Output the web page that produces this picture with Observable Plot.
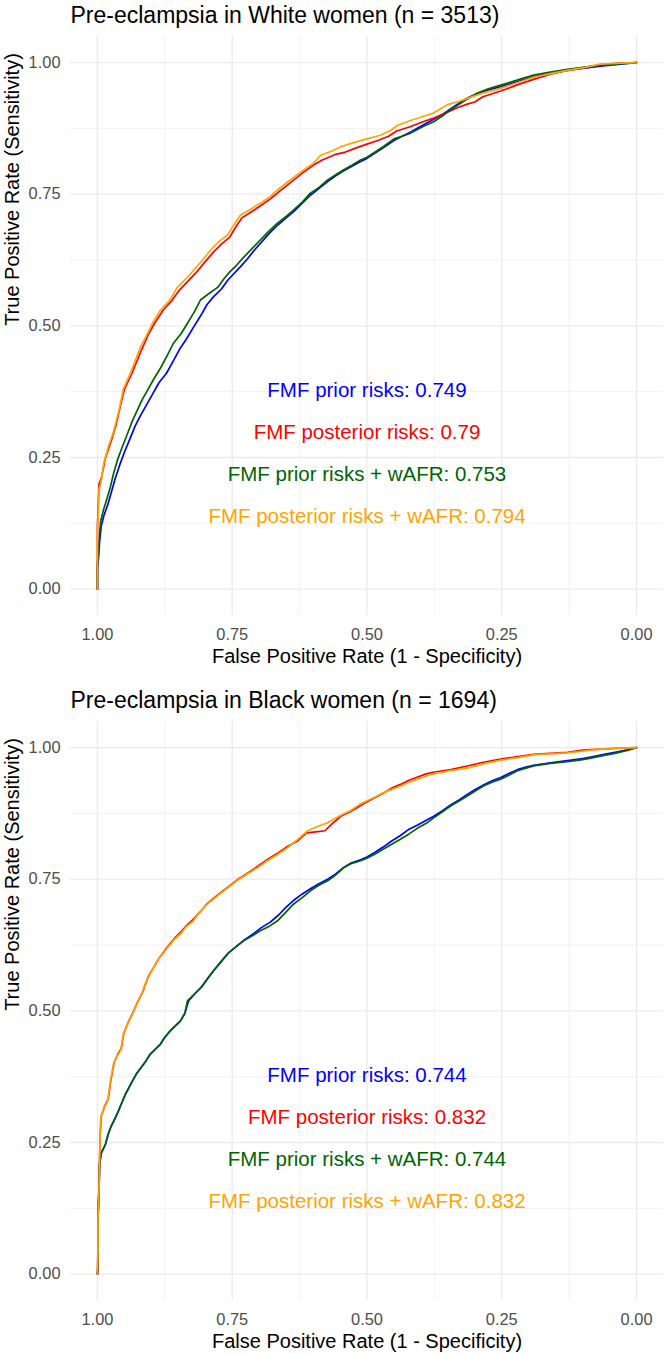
<!DOCTYPE html>
<html><head><meta charset="utf-8">
<script src="https://cdn.jsdelivr.net/npm/d3@7"></script>
<script src="https://cdn.jsdelivr.net/npm/@observablehq/plot@0.6"></script>
<style>html,body{margin:0;padding:0;background:#fff;overflow:hidden} svg{display:block}</style>
</head><body><div id="chart"></div>
<script>
// ---- data ----
const xTicks = [1, 0.75, 0.5, 0.25, 0];
const yTicks = [0, 0.25, 0.5, 0.75, 1];
const minorTicks = [0.125, 0.375, 0.625, 0.875];
const seriesNames = ["FMF prior risks", "FMF posterior risks", "FMF prior risks + wAFR", "FMF posterior risks + wAFR"];
const seriesColors = ["#0000ff", "#ff0000", "#006400", "#ffa500"];
const panelTitles = ["Pre-eclampsia in White women (n = 3513)", "Pre-eclampsia in Black women (n = 1694)"];
const xTitle = "False Positive Rate (1 - Specificity)";
const yTitle = "True Positive Rate (Sensitivity)";
const whiteAuc = ["0.749", "0.79", "0.753", "0.794"];
const blackAuc = ["0.744", "0.832", "0.744", "0.832"];

// [specificity, sensitivity]
const whitePrior = [[1,0],[1,0.04],[0.998,0.06],[0.996,0.09],[0.993,0.12],[0.988,0.14],[0.981,0.16],[0.974,0.185],[0.967,0.21],[0.959,0.235],[0.950,0.26],[0.940,0.285],[0.930,0.31],[0.920,0.33],[0.909,0.35],[0.898,0.37],[0.886,0.392],[0.872,0.41],[0.860,0.432],[0.848,0.455],[0.835,0.475],[0.822,0.497],[0.808,0.52],[0.797,0.54],[0.785,0.555],[0.770,0.57],[0.758,0.587],[0.748,0.598],[0.735,0.612],[0.722,0.627],[0.708,0.645],[0.695,0.66],[0.680,0.677],[0.665,0.692],[0.650,0.705],[0.636,0.717],[0.620,0.733],[0.605,0.748],[0.590,0.76],[0.573,0.774],[0.558,0.785],[0.544,0.794],[0.528,0.803],[0.512,0.812],[0.500,0.818],[0.485,0.828],[0.470,0.838],[0.450,0.852],[0.435,0.86],[0.419,0.868],[0.395,0.882],[0.377,0.892],[0.358,0.903],[0.345,0.912],[0.332,0.921],[0.315,0.932],[0.295,0.941],[0.275,0.948],[0.252,0.954],[0.220,0.964],[0.191,0.973],[0.160,0.98],[0.128,0.985],[0.100,0.989],[0.067,0.993],[0.03,0.997],[0,1]];
const whitePost = [[1,0],[1,0.12],[0.997,0.2],[0.993,0.21],[0.985,0.25],[0.975,0.28],[0.966,0.31],[0.957,0.35],[0.950,0.38],[0.936,0.41],[0.918,0.455],[0.905,0.485],[0.894,0.505],[0.878,0.53],[0.862,0.548],[0.848,0.568],[0.832,0.585],[0.818,0.6],[0.800,0.622],[0.785,0.64],[0.770,0.655],[0.755,0.668],[0.742,0.69],[0.732,0.705],[0.712,0.718],[0.695,0.73],[0.678,0.742],[0.663,0.755],[0.642,0.772],[0.620,0.79],[0.600,0.805],[0.583,0.815],[0.560,0.825],[0.540,0.83],[0.520,0.838],[0.500,0.845],[0.480,0.852],[0.460,0.86],[0.445,0.87],[0.420,0.878],[0.395,0.888],[0.375,0.895],[0.352,0.905],[0.330,0.915],[0.314,0.921],[0.300,0.925],[0.285,0.935],[0.252,0.946],[0.220,0.958],[0.191,0.968],[0.160,0.978],[0.128,0.985],[0.100,0.99],[0.067,0.996],[0.03,0.999],[0,1]];
const whitePriorAfr = [[1,0],[1,0.05],[0.998,0.07],[0.996,0.106],[0.994,0.13],[0.989,0.15],[0.983,0.17],[0.976,0.194],[0.970,0.22],[0.963,0.245],[0.954,0.27],[0.944,0.296],[0.935,0.32],[0.926,0.34],[0.917,0.36],[0.907,0.378],[0.895,0.40],[0.883,0.42],[0.870,0.445],[0.859,0.467],[0.845,0.485],[0.833,0.505],[0.820,0.527],[0.809,0.549],[0.795,0.56],[0.777,0.573],[0.765,0.59],[0.755,0.602],[0.742,0.615],[0.729,0.63],[0.712,0.648],[0.698,0.663],[0.682,0.68],[0.666,0.695],[0.650,0.708],[0.636,0.72],[0.620,0.735],[0.605,0.752],[0.590,0.762],[0.573,0.777],[0.558,0.787],[0.544,0.796],[0.528,0.805],[0.512,0.815],[0.500,0.82],[0.485,0.83],[0.470,0.84],[0.450,0.855],[0.435,0.86],[0.419,0.866],[0.395,0.879],[0.377,0.887],[0.358,0.9],[0.345,0.91],[0.332,0.919],[0.315,0.93],[0.295,0.942],[0.275,0.95],[0.252,0.957],[0.220,0.967],[0.191,0.976],[0.160,0.982],[0.128,0.987],[0.100,0.991],[0.067,0.995],[0.03,0.998],[0,1]];
const whitePostAfr = [[1,0],[1,0.1],[0.997,0.19],[0.994,0.20],[0.988,0.24],[0.980,0.27],[0.970,0.30],[0.960,0.34],[0.952,0.38],[0.939,0.41],[0.920,0.46],[0.905,0.49],[0.898,0.505],[0.883,0.53],[0.865,0.55],[0.852,0.573],[0.835,0.59],[0.822,0.605],[0.805,0.625],[0.790,0.644],[0.775,0.66],[0.759,0.672],[0.745,0.695],[0.735,0.71],[0.715,0.722],[0.698,0.733],[0.680,0.745],[0.666,0.758],[0.645,0.775],[0.623,0.792],[0.600,0.808],[0.586,0.824],[0.565,0.832],[0.549,0.84],[0.525,0.848],[0.500,0.855],[0.475,0.862],[0.455,0.872],[0.443,0.881],[0.419,0.89],[0.395,0.898],[0.377,0.904],[0.351,0.92],[0.330,0.926],[0.314,0.932],[0.285,0.942],[0.252,0.951],[0.220,0.962],[0.191,0.972],[0.160,0.979],[0.128,0.985],[0.100,0.99],[0.067,0.997],[0.03,0.999],[0,1]];

const blackPrior = [[1,0],[0.999,0.011],[0.999,0.106],[0.997,0.163],[0.996,0.209],[0.993,0.23],[0.985,0.247],[0.980,0.266],[0.975,0.28],[0.970,0.29],[0.961,0.31],[0.955,0.325],[0.948,0.342],[0.935,0.367],[0.928,0.38],[0.920,0.391],[0.91,0.405],[0.902,0.418],[0.883,0.437],[0.875,0.45],[0.865,0.462],[0.846,0.481],[0.838,0.495],[0.831,0.519],[0.820,0.532],[0.807,0.545],[0.795,0.562],[0.783,0.578],[0.770,0.594],[0.757,0.61],[0.743,0.622],[0.727,0.635],[0.710,0.647],[0.696,0.658],[0.680,0.668],[0.664,0.682],[0.650,0.697],[0.636,0.71],[0.620,0.722],[0.605,0.732],[0.59,0.741],[0.573,0.75],[0.558,0.76],[0.544,0.772],[0.531,0.78],[0.512,0.787],[0.5,0.792],[0.485,0.801],[0.47,0.811],[0.455,0.822],[0.438,0.833],[0.422,0.845],[0.406,0.853],[0.390,0.862],[0.377,0.869],[0.36,0.88],[0.345,0.891],[0.330,0.9],[0.314,0.911],[0.3,0.92],[0.284,0.929],[0.268,0.937],[0.252,0.943],[0.236,0.951],[0.221,0.958],[0.205,0.963],[0.191,0.966],[0.160,0.971],[0.128,0.975],[0.100,0.979],[0.085,0.982],[0.06,0.987],[0.035,0.992],[0.015,0.996],[0,1]];
const blackPost = [[1,0],[0.999,0.06],[0.999,0.11],[0.997,0.17],[0.996,0.22],[0.995,0.265],[0.993,0.3],[0.987,0.318],[0.980,0.333],[0.975,0.37],[0.969,0.402],[0.962,0.418],[0.956,0.428],[0.951,0.458],[0.943,0.478],[0.934,0.497],[0.925,0.518],[0.916,0.536],[0.906,0.565],[0.896,0.582],[0.887,0.598],[0.869,0.623],[0.857,0.638],[0.845,0.65],[0.834,0.663],[0.821,0.675],[0.808,0.69],[0.795,0.705],[0.777,0.72],[0.758,0.735],[0.739,0.75],[0.721,0.762],[0.702,0.775],[0.684,0.788],[0.665,0.8],[0.646,0.813],[0.630,0.822],[0.612,0.838],[0.595,0.84],[0.578,0.842],[0.565,0.855],[0.548,0.87],[0.531,0.878],[0.512,0.89],[0.500,0.897],[0.485,0.905],[0.470,0.913],[0.452,0.924],[0.438,0.93],[0.422,0.938],[0.406,0.944],[0.390,0.95],[0.377,0.953],[0.345,0.958],[0.314,0.965],[0.284,0.972],[0.252,0.978],[0.220,0.983],[0.191,0.987],[0.160,0.989],[0.128,0.991],[0.100,0.995],[0.067,0.997],[0.03,0.999],[0,1]];
const blackPriorAfr = [[1,0],[0.999,0.011],[0.999,0.106],[0.997,0.163],[0.996,0.209],[0.993,0.23],[0.985,0.247],[0.980,0.266],[0.975,0.28],[0.970,0.29],[0.961,0.31],[0.955,0.325],[0.948,0.342],[0.935,0.367],[0.928,0.38],[0.920,0.391],[0.91,0.405],[0.902,0.418],[0.883,0.437],[0.875,0.45],[0.865,0.462],[0.846,0.481],[0.838,0.495],[0.833,0.519],[0.822,0.53],[0.809,0.543],[0.797,0.56],[0.785,0.576],[0.772,0.592],[0.759,0.608],[0.745,0.62],[0.729,0.633],[0.712,0.643],[0.698,0.652],[0.682,0.66],[0.666,0.671],[0.650,0.688],[0.636,0.703],[0.620,0.715],[0.605,0.728],[0.59,0.738],[0.573,0.747],[0.558,0.758],[0.544,0.771],[0.531,0.779],[0.512,0.785],[0.5,0.79],[0.485,0.798],[0.47,0.807],[0.455,0.816],[0.438,0.826],[0.422,0.836],[0.406,0.847],[0.390,0.856],[0.377,0.866],[0.36,0.878],[0.345,0.889],[0.330,0.898],[0.314,0.908],[0.3,0.917],[0.284,0.927],[0.268,0.934],[0.252,0.94],[0.236,0.948],[0.221,0.956],[0.205,0.961],[0.191,0.965],[0.160,0.97],[0.128,0.973],[0.100,0.977],[0.085,0.98],[0.06,0.985],[0.035,0.99],[0.015,0.995],[0,1]];
const blackPostAfr = [[1,0],[0.999,0.05],[0.999,0.106],[0.997,0.163],[0.996,0.215],[0.995,0.26],[0.994,0.296],[0.988,0.315],[0.981,0.329],[0.976,0.367],[0.970,0.4],[0.963,0.415],[0.957,0.424],[0.952,0.456],[0.944,0.475],[0.935,0.494],[0.926,0.515],[0.918,0.532],[0.907,0.562],[0.898,0.578],[0.889,0.595],[0.870,0.62],[0.858,0.635],[0.846,0.646],[0.835,0.66],[0.822,0.671],[0.810,0.688],[0.796,0.703],[0.778,0.718],[0.759,0.733],[0.740,0.748],[0.722,0.76],[0.703,0.772],[0.685,0.785],[0.666,0.797],[0.647,0.81],[0.628,0.826],[0.61,0.842],[0.592,0.85],[0.573,0.857],[0.562,0.864],[0.544,0.874],[0.531,0.88],[0.512,0.893],[0.500,0.899],[0.485,0.906],[0.470,0.914],[0.455,0.92],[0.438,0.927],[0.422,0.934],[0.406,0.94],[0.390,0.946],[0.377,0.95],[0.345,0.956],[0.314,0.961],[0.284,0.969],[0.252,0.976],[0.220,0.981],[0.191,0.986],[0.160,0.988],[0.128,0.99],[0.100,0.993],[0.067,0.997],[0.03,0.999],[0,1]];

// annotation placement (data coordinates)
const labelX = 0.5;
const labelY = [0.377, 0.297, 0.217, 0.139];

// ---- drawing ----
const FONT = "'Liberation Sans', Arial, Helvetica, sans-serif";
function panel(title, curves, aucs, height, marginBottom) {
  const rows = curves.flatMap((c, k) => c.map(([spec, sens]) => ({spec, sens, series: seriesNames[k]})));
  const labels = seriesNames.map((s, k) => ({series: s, text: `${s}: ${aucs[k]}`, x: labelX, y: labelY[k]}));
  return Plot.plot({
    width: 666, height, marginLeft: 70, marginRight: 3, marginTop: 35.7, marginBottom,
    style: {fontFamily: FONT, background: "#fff", overflow: "visible"},
    x: {domain: [1.05, -0.05]},
    y: {domain: [-0.05, 1.05]},
    color: {domain: seriesNames, range: seriesColors},
    marks: [
      Plot.ruleX(minorTicks, {stroke: "#ebebeb", strokeWidth: 0.7}),
      Plot.ruleY(minorTicks, {stroke: "#ebebeb", strokeWidth: 0.7}),
      Plot.ruleX(xTicks, {stroke: "#ebebeb", strokeWidth: 1.3}),
      Plot.ruleY(yTicks, {stroke: "#ebebeb", strokeWidth: 1.3}),
      Plot.line(rows, {x: "spec", y: "sens", z: "series", stroke: "series", strokeWidth: 1.7, strokeLinejoin: "round"}),
      Plot.axisX(xTicks, {tickFormat: d3.format(".2f"), tickSize: 0, tickPadding: 12.7, fontSize: 16.4, color: "#4d4d4d", label: null}),
      Plot.axisY(yTicks, {tickFormat: d3.format(".2f"), tickSize: 0, tickPadding: 10, fontSize: 16.4, color: "#4d4d4d", label: null}),
      Plot.text(labels, {x: "x", y: "y", text: "text", fill: "series", fontSize: 20.5, lineAnchor: "middle"}),
      Plot.text([title], {frameAnchor: "top-left", text: d => d, dy: -13.7, lineAnchor: "bottom", textAnchor: "start", fontSize: 23, fill: "#000"}),
      Plot.text([xTitle], {frameAnchor: "bottom", text: d => d, dy: 47, lineAnchor: "bottom", fontSize: 20, fill: "#000"}),
      Plot.text([yTitle], {frameAnchor: "left", text: d => d, rotate: -90, dx: -51.5, lineAnchor: "bottom", fontSize: 20, fill: "#000"})
    ]
  });
}
const root = document.getElementById("chart");
root.append(panel(panelTitles[0], [whitePrior, whitePost, whitePriorAfr, whitePostAfr], whiteAuc, 685, 70));
root.append(panel(panelTitles[1], [blackPrior, blackPost, blackPriorAfr, blackPostAfr], blackAuc, 669, 54));
</script></body></html>
